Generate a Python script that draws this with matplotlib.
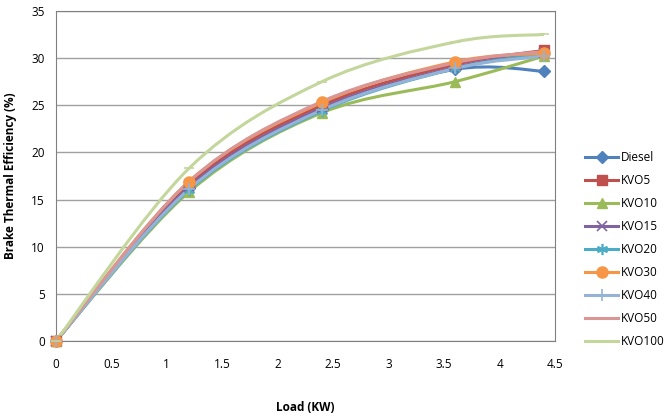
import numpy as np
import matplotlib
matplotlib.use("Agg")
import matplotlib.pyplot as plt
from matplotlib.path import Path
from matplotlib.patches import PathPatch
from matplotlib.lines import Line2D

# donnees
load = [0, 1.2, 2.4, 3.6, 4.4]
series_names = ["Diesel", "KVO5", "KVO10", "KVO15", "KVO20", "KVO30", "KVO40", "KVO50", "KVO100"]
diesel = [0, 16.2, 24.6, 28.8, 28.6]
kvo5 = [0, 16.6, 25.0, 29.3, 30.8]
kvo10 = [0, 15.8, 24.2, 27.5, 30.2]
kvo15 = [0, 16.3, 24.7, 29.0, 30.5]
kvo20 = [0, 16.0, 24.4, 28.9, 30.4]
kvo30 = [0, 16.9, 25.3, 29.6, 30.5]
kvo40 = [0, 16.1, 24.5, 28.9, 30.2]
kvo50 = [0, 16.9, 25.4, 29.5, 30.7]
kvo100 = [0, 18.3, 27.5, 31.7, 32.5]
values = [diesel, kvo5, kvo10, kvo15, kvo20, kvo30, kvo40, kvo50, kvo100]

colors = ["#4F81BD", "#C0504D", "#9BBB59", "#8064A2", "#4BACC6",
          "#F79646", "#95B3D7", "#D99694", "#C3D69B"]
markers = ["D", "s", "^", "x", (6, 2, 0), "o", "+", "None", "_"]
msizes = [6, 7, 7, 7, 8, 8, 8, 0, 7]

plt.rcParams['font.family'] = ['Open Sans', 'DejaVu Sans']


def smooth_path(x, y):
    # courbe lissee facon excel (bezier catmull-rom)
    pts = np.column_stack([x, y]).astype(float)
    n = len(pts)
    verts = [pts[0]]
    codes = [Path.MOVETO]
    for i in range(n - 1):
        p0 = pts[i - 1] if i > 0 else pts[i]
        p1 = pts[i]
        p2 = pts[i + 1]
        p3 = pts[i + 2] if i + 2 < n else pts[i + 1]
        c1 = p1 + (p2 - p0) / 6.0
        c2 = p2 - (p3 - p1) / 6.0
        verts += [c1, c2, p2]
        codes += [Path.CURVE4] * 3
    return Path(verts, codes)


fig = plt.figure(figsize=(6.72, 4.17), dpi=100)
ax = fig.add_axes([0.083, 0.182, 0.743, 0.792])

handles = []
for name, v, c, m, ms in zip(series_names, values, colors, markers, msizes):
    patch = PathPatch(smooth_path(load, v), facecolor="none", edgecolor=c, lw=2.2, zorder=3)
    ax.add_patch(patch)
    mew = 1.2 if m in ("x", "+", "_", (6, 2, 0)) else 1
    ax.plot(load, v, linestyle="None", marker=m, color=c, markersize=ms,
            markeredgewidth=mew, zorder=4, clip_on=False)
    handles.append(Line2D([], [], color=c, lw=2.2, marker=m, markersize=ms,
                          markeredgewidth=mew, label=name))

ax.set_xlim(0, 4.5)
ax.set_ylim(0, 35)
ax.set_xticks(np.arange(0, 4.51, 0.5))
ax.set_xticklabels(["0", "0.5", "1", "1.5", "2", "2.5", "3", "3.5", "4", "4.5"])
ax.set_yticks(range(0, 36, 5))
ax.grid(axis="y", color="#A0A0A0", lw=1)
ax.set_axisbelow(True)
for s in ax.spines.values():
    s.set_color("#808080")
ax.tick_params(axis="both", length=0, labelsize=8.5, colors="black")
ax.tick_params(axis="x", pad=12)
ax.tick_params(axis="y", pad=8)

ax.set_xlabel("Load (KW)", fontsize=8.5, fontweight="bold", labelpad=22)
ax.set_ylabel("Brake Thermal Efficiency (%)", fontsize=8.5, fontweight="bold", labelpad=10)

fig.legend(handles=handles, loc="center left", bbox_to_anchor=(0.855, 0.402),
           frameon=False, fontsize=8.5, handlelength=2.8, labelspacing=0.85,
           handletextpad=0.2)

fig.savefig("out.png", dpi=100)
